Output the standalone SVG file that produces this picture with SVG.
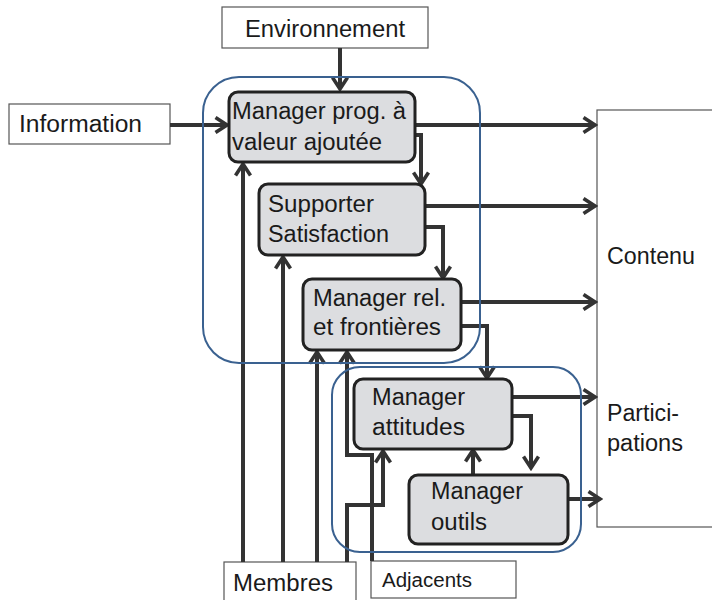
<svg xmlns="http://www.w3.org/2000/svg" width="712" height="600" viewBox="0 0 712 600">
<defs>
<style>
.t{font-family:"Liberation Sans",Arial,sans-serif;font-size:23px;fill:#1a1a1a}
.ts{font-family:"Liberation Sans",Arial,sans-serif;font-size:20px;fill:#1a1a1a}
.wb{fill:#fff;stroke:#555;stroke-width:1.2}
.nb{fill:#dcdde0;stroke:#222;stroke-width:3}
.grp{fill:none;stroke:#3a6190;stroke-width:2}
.ca{fill:none;stroke:#333;stroke-width:4;stroke-linejoin:miter;marker-end:url(#ah)}
</style>
<marker id="ah" viewBox="0 0 16 18" refX="13" refY="9" markerWidth="16" markerHeight="18" markerUnits="userSpaceOnUse" orient="auto">
<path d="M1.5,1.5 L13,9 L1.5,16.5" fill="none" stroke="#333" stroke-width="3.6"/>
</marker>
</defs>
<rect width="712" height="600" fill="#fff"/>

<g id="environnement"><rect class="wb" x="222" y="7" width="206" height="41"/><text class="t" x="245" y="37" textLength="160" lengthAdjust="spacingAndGlyphs">Environnement</text></g>
<g id="information"><rect class="wb" x="9" y="104" width="161" height="40"/><text class="t" x="19" y="132" textLength="123" lengthAdjust="spacingAndGlyphs">Information</text></g>
<g id="contenu"><rect class="wb" x="597" y="110" width="130" height="417"/><text class="t" x="607" y="264" textLength="88" lengthAdjust="spacingAndGlyphs">Contenu</text><text class="t" x="607" y="421" textLength="72" lengthAdjust="spacingAndGlyphs">Partici-</text><text class="t" x="607" y="451" textLength="76" lengthAdjust="spacingAndGlyphs">pations</text></g>
<g id="membres"><rect class="wb" x="224" y="562" width="132" height="45"/><text class="t" x="233" y="591" textLength="100" lengthAdjust="spacingAndGlyphs">Membres</text></g>
<g id="adjacents"><rect class="wb" x="371" y="561" width="145" height="37"/><text class="ts" x="382" y="587" textLength="90" lengthAdjust="spacingAndGlyphs">Adjacents</text></g>

<g id="connectors">
<line class="ca" x1="340" y1="48" x2="340" y2="89"/>
<line class="ca" x1="170" y1="125" x2="227" y2="125"/>
<line class="ca" x1="415" y1="125" x2="595" y2="125"/>
<polyline class="ca" points="415,135 421,135 421,184"/>
<line class="ca" x1="425" y1="206" x2="595" y2="206"/>
<polyline class="ca" points="425,227 443,227 443,278"/>
<line class="ca" x1="461" y1="302" x2="595" y2="302"/>
<polyline class="ca" points="461,326 487,326 487,378"/>
<line class="ca" x1="512" y1="397" x2="595" y2="397"/>
<polyline class="ca" points="512,416 531,416 531,468"/>
<line class="ca" x1="473" y1="475" x2="473" y2="450"/>
<line class="ca" x1="568" y1="499" x2="600" y2="499"/>
<line class="ca" x1="243" y1="562" x2="243" y2="164"/>
<line class="ca" x1="283" y1="562" x2="283" y2="257"/>
<line class="ca" x1="317" y1="562" x2="317" y2="352"/>
<polyline class="ca" points="347,562 347,505 383,505 383,451"/>
<polyline class="ca" points="372,561 372,455 347,455 347,352"/>
</g>

<g id="groups">
<rect class="grp" x="203" y="77" width="277" height="286" rx="36"/>
<rect class="grp" x="332" y="367" width="249" height="185" rx="28"/>
</g>

<g id="n-prog"><rect class="nb" x="229" y="92" width="186" height="70" rx="9"/><text class="t" x="232" y="119" textLength="174" lengthAdjust="spacingAndGlyphs">Manager prog. à</text><text class="t" x="232" y="150" textLength="150" lengthAdjust="spacingAndGlyphs">valeur ajoutée</text></g>
<g id="n-supporter"><rect class="nb" x="259" y="184" width="166" height="71" rx="9"/><text class="t" x="268" y="212" textLength="106" lengthAdjust="spacingAndGlyphs">Supporter</text><text class="t" x="268" y="242" textLength="121" lengthAdjust="spacingAndGlyphs">Satisfaction</text></g>
<g id="n-rel"><rect class="nb" x="303" y="279" width="158" height="71" rx="9"/><text class="t" x="313" y="306" textLength="133" lengthAdjust="spacingAndGlyphs">Manager rel.</text><text class="t" x="313" y="335" textLength="128" lengthAdjust="spacingAndGlyphs">et frontières</text></g>
<g id="n-attitudes"><rect class="nb" x="354" y="379" width="158" height="70" rx="9"/><text class="t" x="372" y="405" textLength="93" lengthAdjust="spacingAndGlyphs">Manager</text><text class="t" x="372" y="435" textLength="93" lengthAdjust="spacingAndGlyphs">attitudes</text></g>
<g id="n-outils"><rect class="nb" x="409" y="475" width="159" height="69" rx="9"/><text class="t" x="431" y="499" textLength="92" lengthAdjust="spacingAndGlyphs">Manager</text><text class="t" x="431" y="530" textLength="56" lengthAdjust="spacingAndGlyphs">outils</text></g>
</svg>
